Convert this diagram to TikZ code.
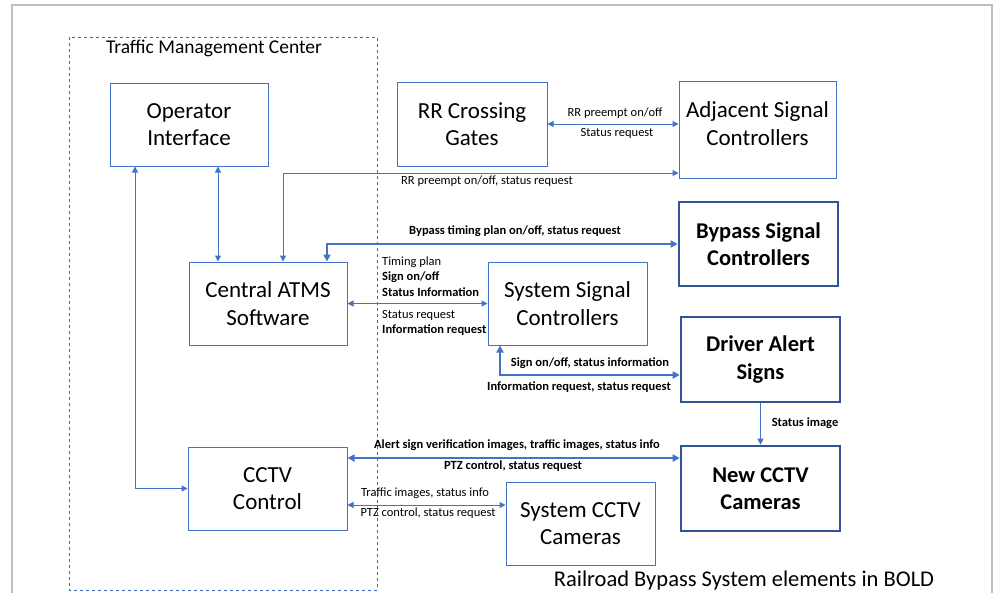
\documentclass[tikz,border=0pt]{standalone}
\usepackage{fontspec}
\setmainfont{Carlito}
\usetikzlibrary{arrows.meta,calc}
\definecolor{lb}{HTML}{4472C4}
\definecolor{db}{HTML}{2F5597}
\definecolor{frame}{HTML}{BFBFBF}
\begin{document}
\begin{tikzpicture}[x=1pt,y=-1pt,
  box/.style={draw=lb, line width=1pt, align=center, inner sep=0pt,
    font=\fontsize{23}{27.5}\selectfont},
  bbox/.style={draw=db, line width=2.6pt, align=center, inner sep=0pt,
    font=\bfseries\fontsize{22.5}{27.5}\selectfont},
  thinarr/.style={draw=lb, line width=1pt, >={Triangle[length=6pt,width=6pt]}},
  thickarr/.style={draw=lb, line width=2.6pt, >={Triangle[length=7pt,width=7pt]}},
  midarr/.style={draw=lb, line width=1.8pt, >={Triangle[length=6pt,width=6pt]}},
  lab/.style={inner sep=0pt, font=\fontsize{12.5}{14}\selectfont},
  blab/.style={inner sep=0pt, font=\bfseries\fontsize{12.5}{14}\selectfont},
]
\useasboundingbox (0,0) rectangle (995,592);
\fill[white] (0,0) rectangle (995,592);
% outer frame
\draw[frame, line width=1.2pt] (12,600) -- (12,5) -- (992,5) -- (992,600);
% TMC dashed box
\draw[lb!60!db, line width=1pt, dash pattern=on 3pt off 3pt] (69,37) rectangle (377,590);
\node[inner sep=0pt, font=\fontsize{19.5}{23}\selectfont] (tmc) at (214,48) {Traffic Management Center};

% boxes
\node[box, minimum width=158, minimum height=83] (op) at (189,124.5) {Operator\\Interface};
\node[box, minimum width=150, minimum height=84] (rr) at (472,124) {RR Crossing\\Gates};
\node[box, minimum width=157, minimum height=97] (adj) at (757.5,129.5) {};
\node[inner sep=0pt, align=center, font=\fontsize{23}{27.5}\selectfont] (adjt) at ($(adj.center)+(0,-6)$) {Adjacent Signal\\Controllers};
\node[box, minimum width=158, minimum height=83] (atms) at (268,303.5) {Central ATMS\\Software};
\node[bbox, minimum width=159, minimum height=84] (byp) at (758.5,244) {Bypass Signal\\Controllers};
\node[box, minimum width=159, minimum height=83] (sys) at (567.5,303.5) {System Signal\\Controllers};
\node[bbox, minimum width=159, minimum height=85] (das) at (760.5,359.5) {Driver Alert\\Signs};
\node[bbox, minimum width=159, minimum height=85] (new) at (760.5,488.5) {New CCTV\\Cameras};
\node[box, minimum width=159, minimum height=83] (cctv) at (267.5,488.5) {CCTV\\Control};
\node[box, minimum width=149, minimum height=83] (scam) at (580.5,523.5) {System CCTV\\Cameras};

% helper coordinates
\coordinate (p1) at (218,0);
\coordinate (p2) at (135,0);
\coordinate (p3) at (283,173);
\coordinate (p4) at (327,243);
\coordinate (p5) at (500,375);
\coordinate (p6) at (0,458);
\coordinate (p7) at (0,505);

% connectors
\draw[thinarr,<->] (op.south -| p1) -- (atms.north -| p1);
\draw[thinarr,<->] (op.south -| p2) |- (cctv.west);
\draw[thinarr,<->] (rr.east) -- (rr.east -| adj.west);
\draw[thinarr,<->] (atms.north -| p3) |- (adj.west |- p3);
\draw[thickarr,<->] (atms.north -| p4) |- (byp.west);
\draw[thinarr,<->] (atms.east) -- (sys.west);
\draw[thickarr,<->] (sys.south -| p5) |- (das.west |- p5);
\draw[midarr,->] (das.south) -- (new.north);
\draw[thickarr,<->] (cctv.east |- p6) -- (new.west |- p6);
\draw[thinarr,<->] (cctv.east |- p7) -- (scam.west |- p7);

% labels
\node[lab] (l1) at (615,113) {RR preempt on/off};
\node[lab] (l2) at (617,133) {Status request};
\node[lab] (l3) at (487,181) {RR preempt on/off, status request};
\node[blab] (l4) at (515,231) {Bypass timing plan on/off, status request};
\node[lab, anchor=west] (l5) at (382,262) {Timing plan};
\node[blab, anchor=west] (l6) at (382,277) {Sign on/off};
\node[blab, anchor=west] (l7) at (382,292) {Status Information};
\node[lab, anchor=west] (l8) at (382,315) {Status request};
\node[blab, anchor=west] (l9) at (382,330) {Information request};
\node[blab] (l10) at (590,363) {Sign on/off, status information};
\node[blab] (l11) at (579,387) {Information request, status request};
\node[blab] (l12) at (805,423) {Status image};
\node[blab] (l13) at (517,445) {Alert sign verification images, traffic images, status info};
\node[blab] (l14) at (513,466) {PTZ control, status request};
\node[lab] (l15) at (425,493) {Traffic images, status info};
\node[lab] (l16) at (428,513) {PTZ control, status request};
\node[inner sep=0pt, font=\fontsize{22.5}{26}\selectfont] (note) at (744,580) {Railroad Bypass System elements in BOLD};
\end{tikzpicture}
\end{document}
